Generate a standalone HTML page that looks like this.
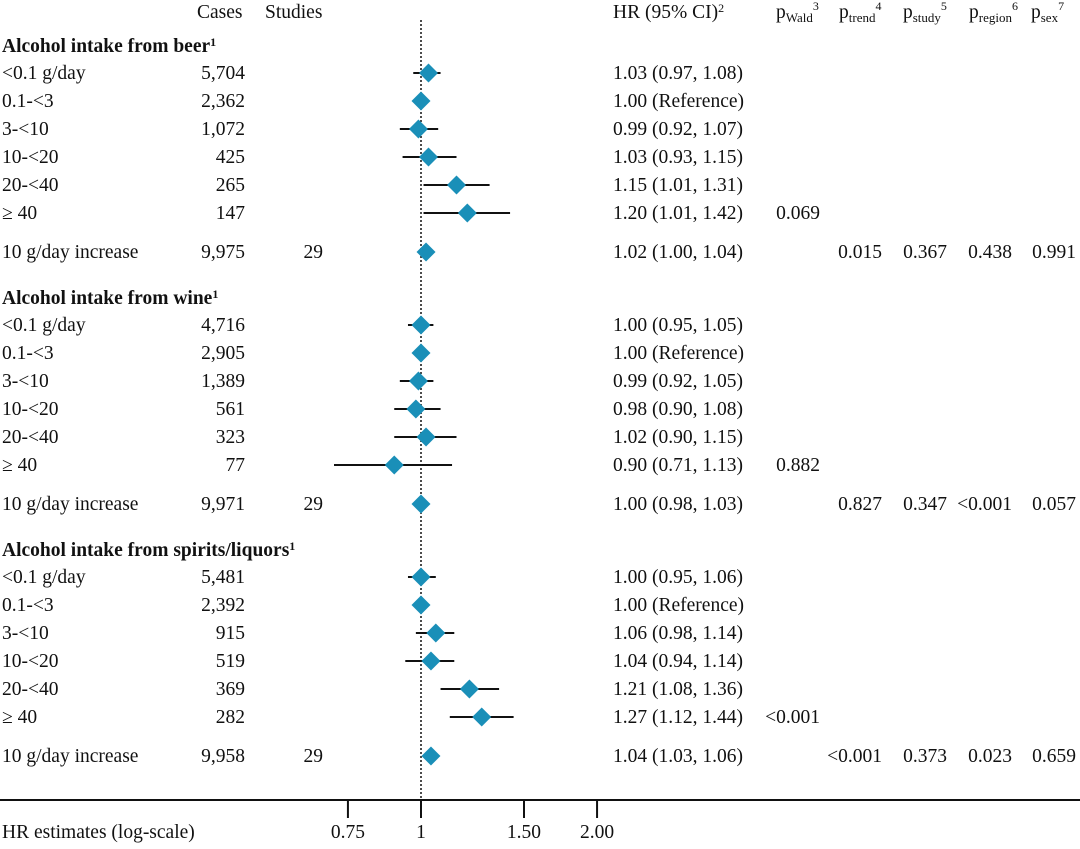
<!DOCTYPE html>
<html><head><meta charset="utf-8"><style>
body{margin:0;background:#fff}
svg text{font-family:"Liberation Serif",serif;font-size:19.5px;fill:#111}
</style></head><body>
<svg id="c" width="1080" height="844" xmlns="http://www.w3.org/2000/svg"></svg>
<script>
const labels=["<0.1 g/day","0.1-<3","3-<10","10-<20","20-<40","≥ 40","10 g/day increase"];
const groups=["Alcohol intake from beer","Alcohol intake from wine","Alcohol intake from spirits/liquors"];
const cases=[["5,704","2,362","1,072","425","265","147","9,975"],["4,716","2,905","1,389","561","323","77","9,971"],["5,481","2,392","915","519","369","282","9,958"]];
const hrVals=[[1.03,1.00,0.99,1.03,1.15,1.20,1.02],[1.00,1.00,0.99,0.98,1.02,0.90,1.00],[1.00,1.00,1.06,1.04,1.21,1.27,1.04]];
const loVals=[[0.97,1.00,0.92,0.93,1.01,1.01,1.00],[0.95,1.00,0.92,0.90,0.90,0.71,0.98],[0.95,1.00,0.98,0.94,1.08,1.12,1.03]];
const hiVals=[[1.08,1.00,1.07,1.15,1.31,1.42,1.04],[1.05,1.00,1.05,1.08,1.15,1.13,1.03],[1.06,1.00,1.14,1.14,1.36,1.44,1.06]];
const pWald=["0.069","0.882","<0.001"];
const pTrend=["0.015","0.827","<0.001"];
const pStudy=["0.367","0.347","0.373"];
const pRegion=["0.438","<0.001","0.023"];
const pSex=["0.991","0.057","0.659"];
const ticks=[0.75,1,1.5,2];
const tickLabels=["0.75","1","1.50","2.00"];
const svg=document.getElementById('c');
const NS="http://www.w3.org/2000/svg";
function x(v){return 421+254*Math.log(v);}
function el(t,a,txt){const e=document.createElementNS(NS,t);for(const k in a)e.setAttribute(k,a[k]);if(txt!=null)e.textContent=txt;svg.appendChild(e);return e;}
function tx(xx,y,s,anchor,name){const e=el('text',{x:xx,y:y,'text-anchor':anchor||'start'},s);

return e;}
function hdr(xx,main,sub,sup,name){const e=el('text',{x:xx,y:18});
const a=document.createElementNS(NS,'tspan');a.textContent=main;e.appendChild(a);
if(sub){const b=document.createElementNS(NS,'tspan');b.setAttribute('dy','4');b.setAttribute('font-size','13');b.textContent=sub;e.appendChild(b);}
const c=document.createElementNS(NS,'tspan');c.setAttribute('dy',sub?'-12':'-6');c.setAttribute('font-size','12');c.textContent=sup;e.appendChild(c);}
tx(197,18,"Cases","start","cases-header");
tx(265,18,"Studies","start","studies-header");
hdr(613,"HR (95% CI)","", "2","hr-header");
hdr(776,"p","Wald","3","p-wald-header");
hdr(839,"p","trend","4","p-trend-header");
hdr(903,"p","study","5","p-study-header");
hdr(969,"p","region","6","p-region-header");
hdr(1031,"p","sex","7","p-sex-header");
const rl=el('line',{x1:x(1),x2:x(1),y1:20,y2:803,stroke:'#111','stroke-width':1.5,'stroke-dasharray':'2,2'});


const tops=[46,298,550];
const rowOff=[27,55,83,111,139,167,206];
groups.forEach((g,gi)=>{
 const t=el('text',{x:2,y:tops[gi]+6,'font-weight':'bold','font-size':'17.5'});
 
 
 t.textContent=g;
 const s=document.createElementNS(NS,'tspan');s.setAttribute('dy','-6');s.setAttribute('font-size','12');s.textContent='1';t.appendChild(s);
 labels.forEach((lb,ri)=>{
  const y=tops[gi]+rowOff[ri];
  tx(2,y+6,lb,"start","row-label");
  tx(245,y+6,cases[gi][ri],"end","cases-value");
  if(ri==6)tx(323,y+6,"29","end","studies-value");
  const h=hrVals[gi][ri],l=loVals[gi][ri],u=hiVals[gi][ri];
  const txt=ri==1?"1.00 (Reference)":h.toFixed(2)+" ("+l.toFixed(2)+", "+u.toFixed(2)+")";
  tx(613,y+6,txt,"start","hr-text");
  if(ri==5)tx(820,y+6,pWald[gi],"end","p-wald-value");
  if(ri==6){tx(882,y+6,pTrend[gi],"end","p-trend-value");tx(947,y+6,pStudy[gi],"end","p-study-value");tx(1012,y+6,pRegion[gi],"end","p-region-value");tx(1076,y+6,pSex[gi],"end","p-sex-value");}
  if(u>l){const ci=el('line',{x1:x(l),x2:x(u),y1:y,y2:y,stroke:'#111','stroke-width':2});
   
   }
  const cx=x(h),r=9.5;
  const d=el('polygon',{points:`${cx},${y-r} ${cx+r},${y} ${cx},${y+r} ${cx-r},${y}`,fill:'#1a8fb8'});
  
  
 });
});
const ax=el('line',{x1:0,x2:1080,y1:800,y2:800,stroke:'#111','stroke-width':2});


ticks.forEach((v,i)=>{
 const tk=el('line',{x1:x(v),x2:x(v),y1:800,y2:818,stroke:'#111','stroke-width':2});
 
 
 tx(x(v),838,tickLabels[i],"middle","x-tick-label");
});
tx(2,838,"HR estimates (log-scale)","start","x-axis-title");
</script>
</body></html>
